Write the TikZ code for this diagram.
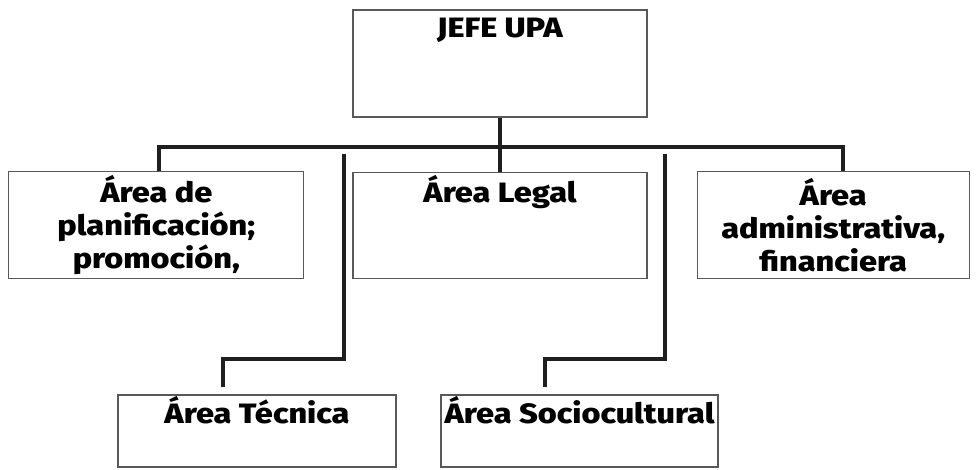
\documentclass[tikz,border=0pt]{standalone}
\usepackage{fontspec}
\setmainfont{Fira Sans}[BoldFont={Fira Sans ExtraBold}, BoldFeatures={FakeStretch=1.16}]
\usetikzlibrary{positioning}

\begin{document}
\begin{tikzpicture}[x=1pt, y=-1pt, node distance=48pt,
	area/.style={rectangle, draw=black!65, line width=1.2pt, inner sep=0pt, align=center, font=\bfseries\fontsize{28}{33}\selectfont},
	link/.style={draw=black!88, line width=4.5pt}]
	\useasboundingbox (0,0) rectangle (978,469);

	% Nodes
	\node[area, minimum width=294pt, text height=27pt, text depth=80pt] (jefe) at (500,63.5) {JEFE UPA};
	\node[area, minimum width=294pt, text height=30pt, text depth=76pt] (legal) [below=54pt of jefe] {Área Legal};
	\node[area, minimum width=295pt, minimum height=107pt] (plan) [left=48pt of legal] {Área de\\planificación;\\promoción,};
	\node[area, minimum width=272pt, minimum height=107pt] (admin) [right=49pt of legal] {Área\\administrativa,\\financiera};
	\node[area, minimum width=278pt, text height=28pt, text depth=44pt] (tec) at (257,431) {Área Técnica};
	\node[area, minimum width=277pt, text height=28pt, text depth=44pt] (socio) at (579.5,431) {Área Sociocultural};

	% Connections
	\coordinate (bus) at (500,147);
	\coordinate (tecup) at (344,154);
	\coordinate (tecbend) at (223,359);
	\coordinate (socioup) at (665,154);
	\coordinate (sociobend) at (545,359);
	\draw[link] (jefe) -- (bus);
	\draw[link] ([xshift=2.5pt]plan.north) |- (bus) -| ([xshift=10pt]admin.north);
	\draw[link] (bus) -- (legal);
	\draw[link, shorten >=7pt] (tecup) |- (tecbend) -- (tecbend |- tec.north);
	\draw[link, shorten >=7pt] (socioup) |- (sociobend) -- (sociobend |- socio.north);
\end{tikzpicture}
\end{document}
